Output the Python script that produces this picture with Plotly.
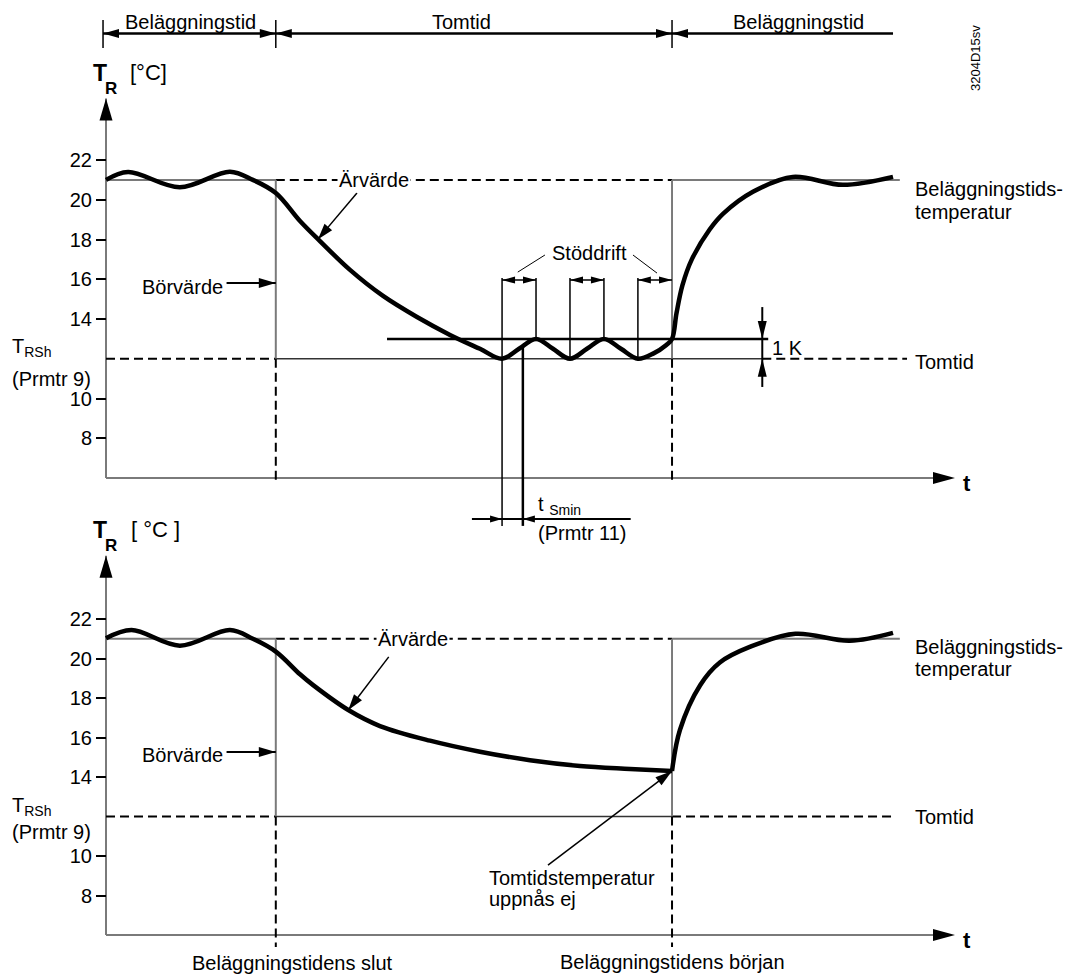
import math
import numpy as np
import plotly.graph_objects as go

# ---------------- values ----------------
t_occ_end = 20.0       # Beläggningstidens slut
t_occ_start = 66.67    # Beläggningstidens början
T_occ = 21.0           # Beläggningstidstemperatur
T_rsh = 12.0           # T_RSh (Prmtr 9), Tomtid
T_band = 1.0           # 1 K

y_ticks = [8, 10, 14, 16, 18, 20, 22]

# room temperature, upper diagram (with Stöddrift)
upper_t = [0, 2.6, 8.7, 14.6, 17.3, 20.0, 22.85, 25.2, 28.74, 32.63, 36.63, 40.52,
           44.05, 46.65, 48.65, 50.65, 52.65, 54.65, 56.65, 58.65, 60.65, 62.65,
           64.5, 66.0, 66.67, 67.2, 67.9, 69.0, 71.1, 72.7, 76.2, 80.9, 86.8, 92.7]
upper_T = [21.0, 21.4, 20.63, 21.41, 21.0, 20.34, 18.93, 17.92, 16.47, 15.16, 14.10, 13.2,
           12.5, 12.0, 12.5, 13.0, 12.5, 12.0, 12.5, 13.0, 12.5, 12.0,
           12.27, 12.69, 13.0, 14.3, 15.7, 17.0, 18.5, 19.3, 20.4, 21.15, 20.75, 21.15]

# room temperature, lower diagram (Tomtidstemperatur uppnås ej)
lower_fall_t = [0, 3.0, 8.7, 14.6, 17.3, 20.0, 22.85, 24.4, 28.54, 32.27, 38.16,
                44.05, 49.94, 55.83, 61.72, 66.67]
lower_fall_T = [21.02, 21.44, 20.65, 21.44, 21.0, 20.35, 19.2, 18.65, 17.39, 16.58, 15.84,
                15.28, 14.85, 14.56, 14.41, 14.30]
lower_rise_t = [66.67, 67.6, 70.0, 72.3, 75.9, 81.2, 87.6, 92.7]
lower_rise_T = [14.30, 16.38, 18.66, 19.8, 20.6, 21.25, 20.9, 21.3]

# Stöddrift extremes and t_Smin (Prmtr 11)
boost_low_t = [46.65, 54.65, 62.65]
boost_high_t = [50.65, 58.65]
t_smin = [46.65, 49.1]

# ---------------- geometry ----------------
W, H = 1071, 975
FONT = "Liberation Sans, Arial, sans-serif"
GRAY = "#7a7a7a"
DASH = "9px,5px"
X0_PX = 106.0          # pixel column of t = 0
PX_PER_T = 8.49
SPLIT_PX = 540.0
PANELS = {
    "upper": dict(xr="x", yr="y", y22=160.0, ppk=19.875, rows=(0.0, SPLIT_PX)),
    "lower": dict(xr="x2", yr="y2", y22=619.0, ppk=19.75, rows=(SPLIT_PX, float(H))),
}


def py(px):
    return 1 - px / H


x_range = [-X0_PX / PX_PER_T, (W - X0_PX) / PX_PER_T]
for p in PANELS.values():
    r0, r1 = p["rows"]
    p["range"] = [22 - (r1 - p["y22"]) / p["ppk"], 22 + (p["y22"] - r0) / p["ppk"]]
    p["domain"] = [py(r1), py(r0)]

shapes, annos = [], []


def line(xr, yr, x0, y0, x1, y1, w=1.5, color="black", dash="solid", layer="below"):
    shapes.append(dict(type="line", xref=xr, yref=yr, x0=x0, y0=y0, x1=x1, y1=y1,
                       layer=layer, line=dict(color=color, width=w, dash=dash)))


def head(xr, yr, x, y, ang, L=15, hw=4.5):
    a = math.radians(ang)
    ux, uy = math.cos(a), math.sin(a)
    nx, ny = -uy, ux
    bx, by = -L * ux, -L * uy
    path = (f"M0,0 L{bx + hw * nx:.2f},{by + hw * ny:.2f} "
            f"L{bx - hw * nx:.2f},{by - hw * ny:.2f} Z")
    shapes.append(dict(type="path", xref=xr, yref=yr, xsizemode="pixel", ysizemode="pixel",
                       xanchor=x, yanchor=y, path=path, fillcolor="black",
                       line=dict(width=0), layer="above"))


def arrow(panel, x0, y0, x1, y1, w=1.5, L=15, hw=4.5):
    p = PANELS[panel]
    ang = math.degrees(math.atan2((y1 - y0) * p["ppk"], (x1 - x0) * PX_PER_T))
    line(p["xr"], p["yr"], x0, y0, x1, y1, w)
    head(p["xr"], p["yr"], x1, y1, ang, L, hw)


def text(xr, yr, x, y, s, size=20, xa="center", ya="middle", bg=None, angle=0):
    d = dict(xref=xr, yref=yr, x=x, y=y, text=s, showarrow=False, xanchor=xa, yanchor=ya,
             font=dict(family=FONT, size=size, color="black"), textangle=angle, borderpad=1)
    if bg:
        d["bgcolor"] = bg
    annos.append(d)


def common(panel, y_tip, low_end, rsh_T, prm_T, bor_T, bor_arrow_T, right_T, tom_T,
           solid_rsh_end, dashed_rsh_end, tr_px):
    p = PANELS[panel]
    xr, yr = p["xr"], p["yr"]
    # axes with arrowheads
    line(xr, yr, 0, 6, 0, y_tip, w=2, color=GRAY)
    head(xr, yr, 0, y_tip, 90, L=22, hw=6.5)
    line(xr, yr, 0, 6, 98.5, 6, w=2, color=GRAY)
    head(xr, yr, 100, 6, 0, L=22, hw=6)
    text(xr, yr, 101.4, 5.7, "<b>t</b>", size=22)
    # occupancy setpoint line
    line(xr, yr, 0, T_occ, t_occ_end, T_occ, w=2, color=GRAY)
    line(xr, yr, t_occ_end, T_occ, t_occ_start, T_occ, w=2, dash=DASH)
    line(xr, yr, t_occ_start, T_occ, 93.5, T_occ, w=2, color=GRAY)
    # unoccupied setpoint line
    line(xr, yr, 0, T_rsh, t_occ_end, T_rsh, w=2, dash=DASH)
    line(xr, yr, t_occ_end, T_rsh, solid_rsh_end, T_rsh, w=1.5, color="#333")
    line(xr, yr, solid_rsh_end, T_rsh, dashed_rsh_end, T_rsh, w=2, dash=DASH)
    # period boundaries
    for tb in (t_occ_end, t_occ_start):
        line(xr, yr, tb, T_occ, tb, T_rsh, w=2, color=GRAY)
        line(xr, yr, tb, T_rsh, tb, low_end, w=2, dash=DASH)
    # Börvärde
    text(xr, yr, 14.0, bor_T, "Börvärde", xa="right")
    arrow(panel, 14.2, bor_arrow_T, t_occ_end, bor_arrow_T, w=2, L=17, hw=5)
    # T_RSh label
    text(xr, yr, -11.3, rsh_T, "T<sub>RSh</sub>", xa="left")
    text(xr, yr, -11.3, prm_T, "(Prmtr 9)", xa="left")
    # right side labels
    text(xr, yr, 95.05, right_T[0], "Beläggningstids-", xa="left")
    text(xr, yr, 95.05, right_T[1], "temperatur", xa="left")
    text(xr, yr, 95.05, tom_T, "Tomtid", xa="left")
    # axis title
    text("paper", "paper", 100 / W, py(tr_px[0]), "<b>T</b>", size=23)
    text("paper", "paper", 111 / W, py(tr_px[1]), "<b>R</b>", size=17)
    text("paper", "paper", tr_px[2] / W, py(tr_px[0] - 1), tr_px[3], size=22)


# ---------- upper diagram ----------
common("upper", 25.1, 5.75, 12.59, 11.0, 15.61, 15.81, (20.54, 19.38), 11.84,
       77.3, 94.35, (73, 88, 148, "[°C]"))
text("x", "y", 31.6, T_occ, "Ärvärde", bg="white")
tip_t = 24.97
arrow("upper", 29.56, 20.34, tip_t, float(np.interp(tip_t, upper_t, upper_T)), w=1.5, L=16, hw=5)

T_top = T_rsh + T_band
line("x", "y", 33.1, T_top, 78.0, T_top, w=2.5)
# Stöddrift markers
dim_T = 15.96
for tb in boost_high_t:
    line("x", "y", tb, dim_T + 0.1, tb, T_top, w=1.5)
for tb in boost_low_t[1:]:
    line("x", "y", tb, dim_T + 0.1, tb, T_rsh, w=1.5)
line("x", "y", t_smin[0], dim_T + 0.1, t_smin[0], 3.59, w=1.5)
line("x", "y", t_smin[1], float(np.interp(t_smin[1], upper_t, upper_T)), t_smin[1], 3.59, w=2.5)
for a, b in ((boost_low_t[0], boost_high_t[0]), (boost_low_t[1], boost_high_t[1]),
             (boost_low_t[2], t_occ_start)):
    line("x", "y", a, dim_T, b, dim_T, w=1.5)
    head("x", "y", a, dim_T, 180, L=13, hw=3.5)
    head("x", "y", b, dim_T, 0, L=13, hw=3.5)
text("x", "y", 57.0, 17.32, "Stöddrift")
line("x", "y", 51.7, 17.22, 48.5, 16.36, w=1)
line("x", "y", 62.07, 17.22, 64.9, 16.31, w=1)
# 1 K band
line("x", "y", 77.3, 14.6, 77.3, 10.58, w=2)
head("x", "y", 77.3, T_top, 270, L=18, hw=4.5)
head("x", "y", 77.3, T_rsh, 90, L=18, hw=4.5)
text("x", "y", 78.2, 12.55, "1 K", xa="left")
# t_Smin
line("x", "y", 43.1, 3.94, 61.8, 3.94, w=2)
head("x", "y", t_smin[0], 3.94, 0, L=12, hw=3.5)
head("x", "y", t_smin[1], 3.94, 180, L=12, hw=3.5)
text("x", "y", 50.6, 4.64, "t <sub>Smin</sub>", xa="left")
text("x", "y", 50.6, 3.23, "(Prmtr 11)", xa="left")

# ---------- lower diagram ----------
common("lower", 25.2, 5.39, 12.53, 11.22, 15.11, 15.27, (20.58, 19.47), 11.97,
       t_occ_start, 92.9, (530, 545, 155, "[ °C ]"))
text("x2", "y2", 36.2, T_occ, "Ärvärde", bg="white")
tip_t2 = 28.54
arrow("lower", 33.3, 20.08, tip_t2, float(np.interp(tip_t2, lower_fall_t, lower_fall_T)),
      w=1.5, L=16, hw=5)
arrow("lower", 52.06, 9.54, t_occ_start, lower_fall_T[-1], w=1.5, L=17, hw=5)
text("x2", "y2", 44.9, 8.89, "Tomtidstemperatur", xa="left")
text("x2", "y2", 44.9, 7.82, "uppnås ej", xa="left")
text("x2", "y2", 22.0, 4.58, "Beläggningstidens slut")
text("x2", "y2", t_occ_start, 4.63, "Beläggningstidens början")

# ---------- period header ----------
hy = py(33.5)
for tb in (-0.35, t_occ_end, t_occ_start):
    line("x", "paper", tb, py(20), tb, py(48), w=1.5)
line("x", "paper", -0.35, hy, 92.7, hy, w=2.5)
head("x", "paper", -0.35, hy, 180, L=16, hw=4.5)
for tb in (t_occ_end, t_occ_start):
    head("x", "paper", tb, hy, 0, L=16, hw=4.5)
    head("x", "paper", tb, hy, 180, L=16, hw=4.5)
text("x", "paper", 10.0, py(22), "Beläggningstid")
text("x", "paper", 41.9, py(22), "Tomtid")
text("x", "paper", 81.6, py(22), "Beläggningstid")
text("paper", "paper", 975 / W, py(58), "3204D15sv", size=13, angle=-90)

# ---------- curves ----------
fig = go.Figure()
curve = dict(color="black", width=4.5, shape="spline", smoothing=1.0)
fig.add_trace(go.Scatter(x=upper_t, y=upper_T, mode="lines", line=curve,
                         xaxis="x", yaxis="y", hoverinfo="skip"))
fig.add_trace(go.Scatter(x=lower_fall_t, y=lower_fall_T, mode="lines", line=curve,
                         xaxis="x2", yaxis="y2", hoverinfo="skip"))
fig.add_trace(go.Scatter(x=lower_rise_t, y=lower_rise_T, mode="lines", line=curve,
                         xaxis="x2", yaxis="y2", hoverinfo="skip"))


def yaxis(p):
    return dict(domain=p["domain"], range=p["range"], anchor="free", position=X0_PX / W,
                showline=False, showgrid=False, zeroline=False, ticks="outside",
                ticklen=10, tickwidth=2, tickcolor="black", tickvals=y_ticks,
                tickfont=dict(family=FONT, size=20, color="black"), fixedrange=True)


xax = dict(domain=[0, 1], range=x_range, visible=False, fixedrange=True)
fig.update_layout(
    width=W, height=H, autosize=False,
    margin=dict(l=0, r=0, t=0, b=0),
    paper_bgcolor="white", plot_bgcolor="white",
    showlegend=False, hovermode=False,
    font=dict(family=FONT, size=20, color="black"),
    xaxis=dict(xax, anchor="y"), xaxis2=dict(xax, anchor="y2"),
    yaxis=yaxis(PANELS["upper"]), yaxis2=yaxis(PANELS["lower"]),
    shapes=shapes, annotations=annos,
)
fig.write_html("out.html")
